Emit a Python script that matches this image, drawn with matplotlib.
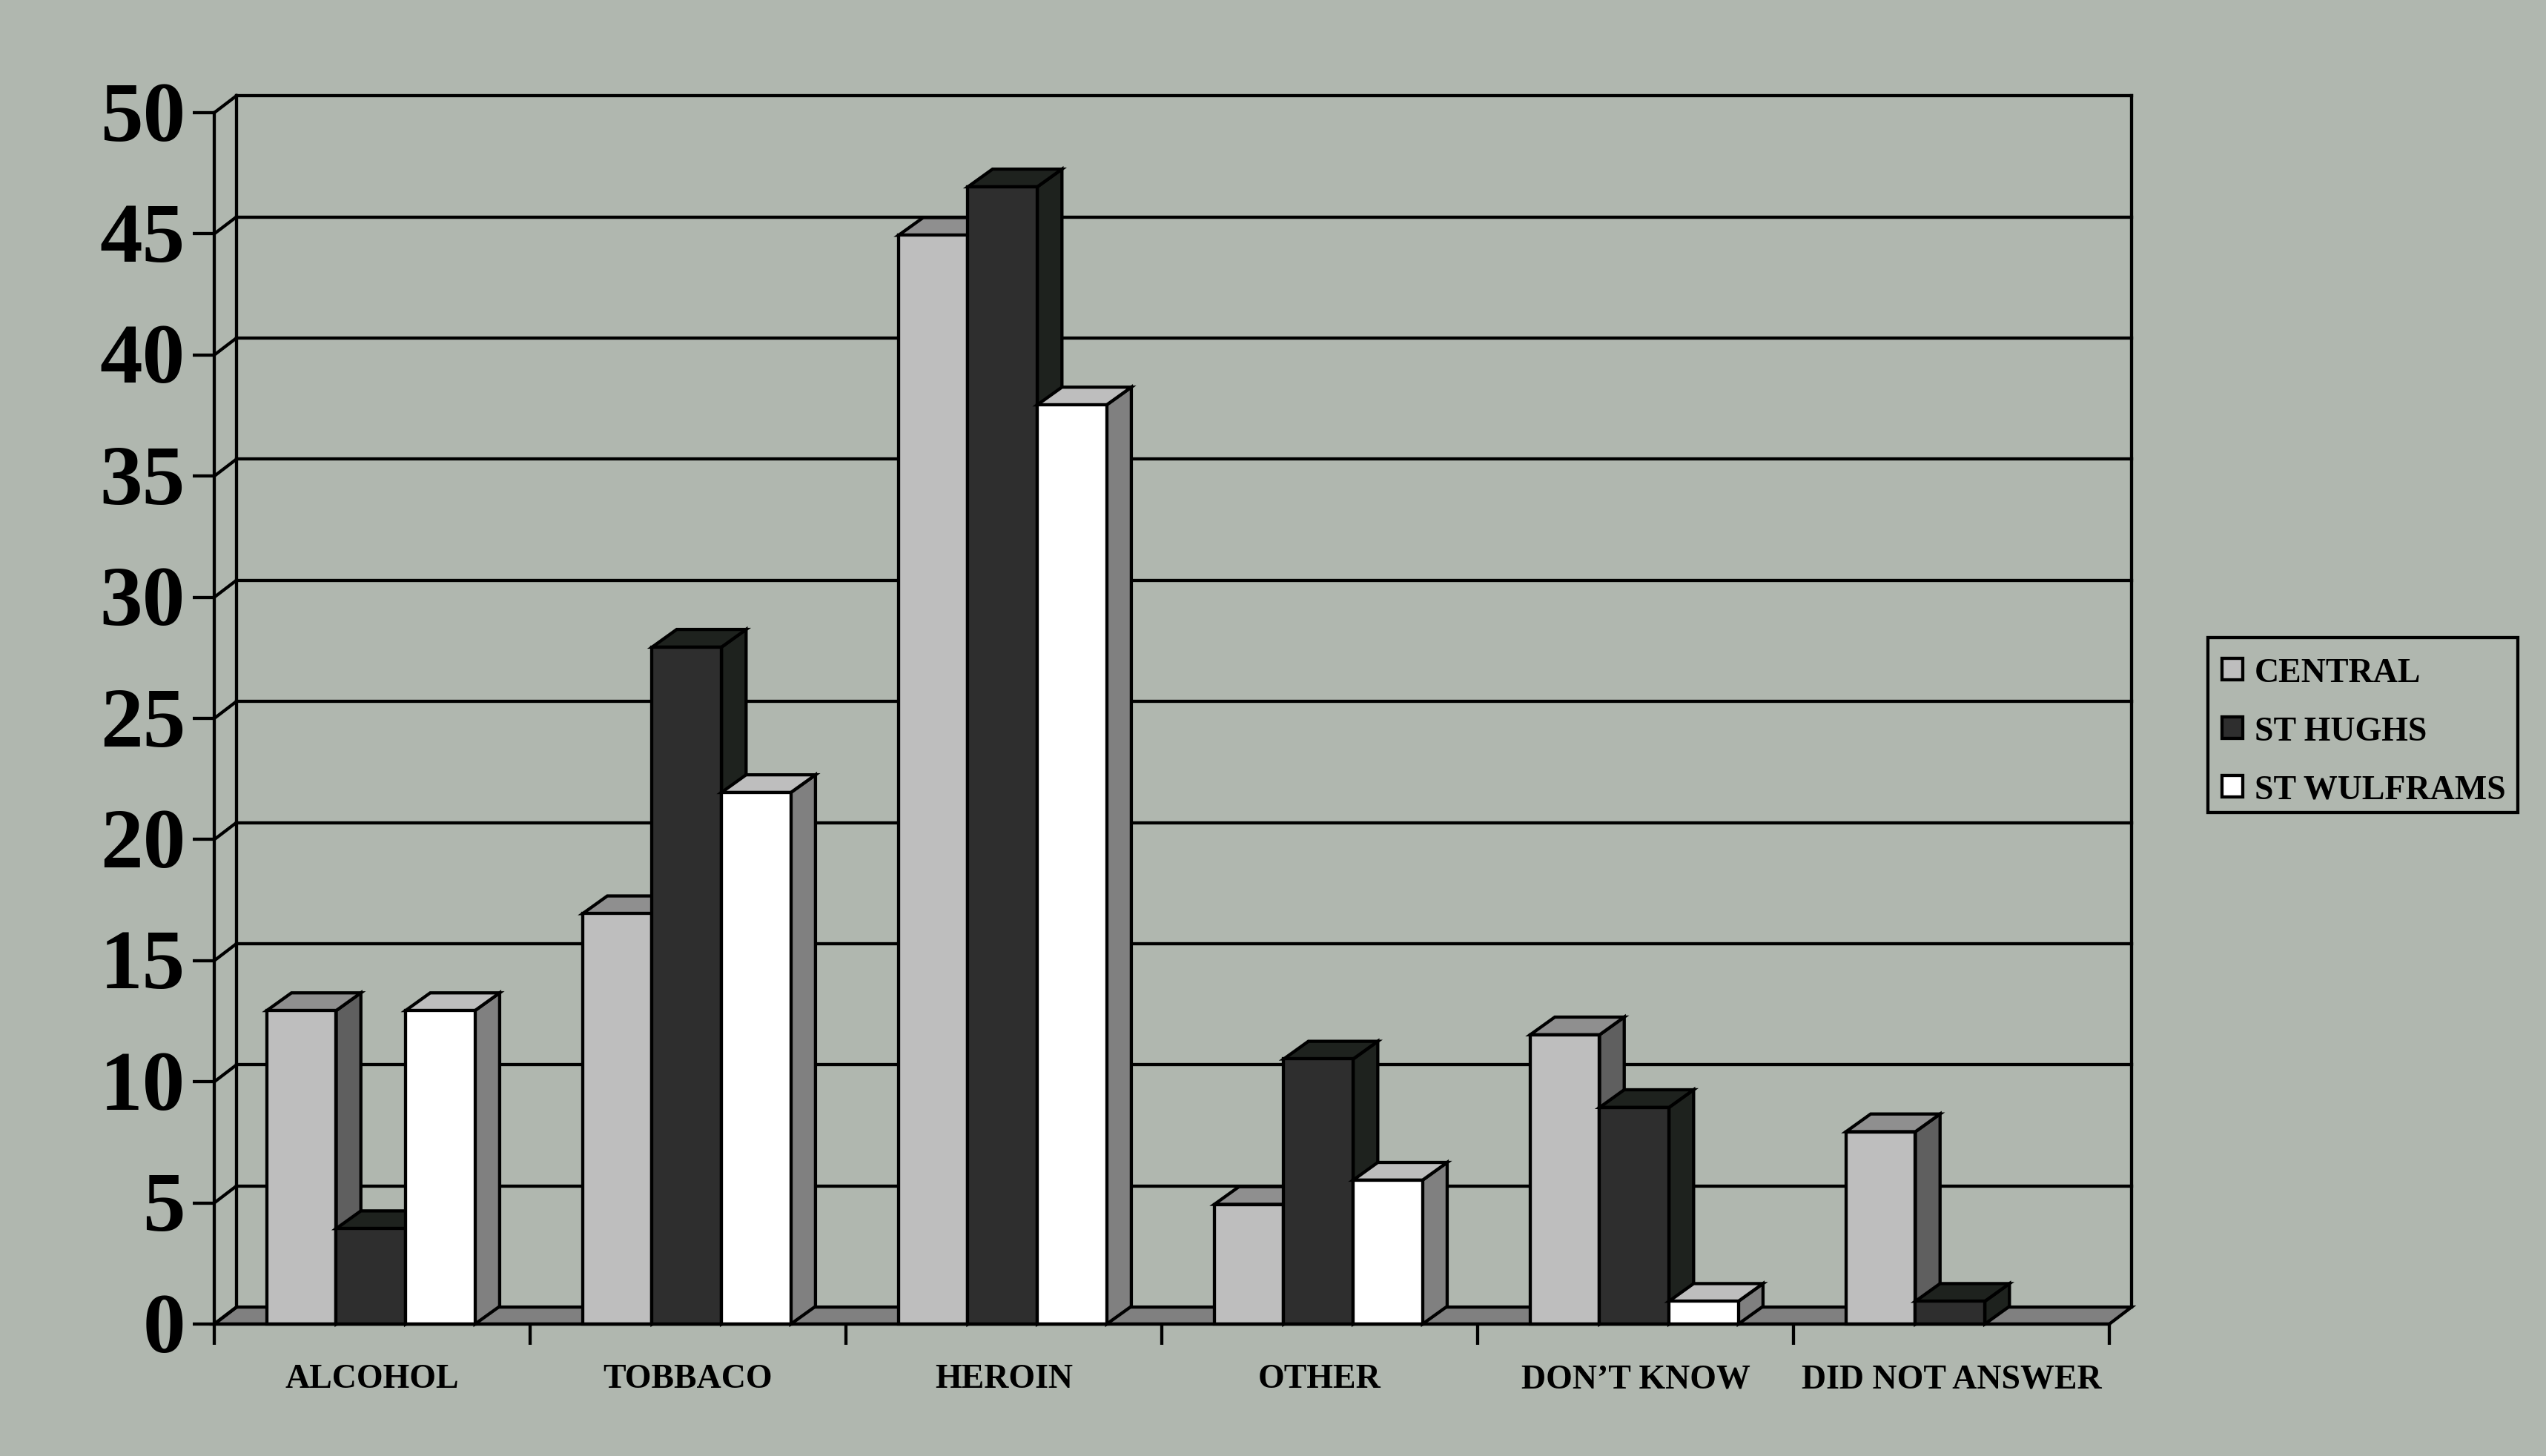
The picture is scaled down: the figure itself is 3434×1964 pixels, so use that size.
import matplotlib
matplotlib.use("Agg")
import matplotlib.pyplot as plt
from matplotlib.patches import Patch, Polygon, Rectangle
from matplotlib.transforms import ScaledTranslation

categories = ["ALCOHOL", "TOBBACO", "HEROIN", "OTHER", "DON\u2019T KNOW", "DID NOT ANSWER"]
central = [13, 17, 45, 5, 12, 8]
st_hughs = [4, 28, 47, 11, 9, 1]
st_wulframs = [13, 22, 38, 6, 1, 0]
series_names = ["CENTRAL", "ST HUGHS", "ST WULFRAMS"]
yticks = [0, 5, 10, 15, 20, 25, 30, 35, 40, 45, 50]

W, H = 3434, 1965
BG = "#b0b7af"
LW = 3.1

# front, top, side colours for each series
colours = [("#bebebe", "#8f8f8f", "#5f5f5f"),
           ("#2e2e2e", "#1e221e", "#1e221e"),
           ("#ffffff", "#bebebe", "#808080")]

plt.rcParams["font.family"] = ["Liberation Serif", "DejaVu Serif"]
plt.rcParams["font.weight"] = "bold"

fig = plt.figure(figsize=(W / 100, H / 100), dpi=100, facecolor=BG)
ax = fig.add_axes([289 / W, 1 - 1787 / H, (2845 - 289) / W, (1787 - 153) / H])
ax.set_facecolor("none")
ax.set_xlim(0, 6)
ax.set_ylim(0, 50)

# depth of the fake 3d box, in data units
wall_dx, wall_dy = 0.0704, 0.70
bar_dx, bar_dy = 0.078, 0.73
bar_w = 0.2197
bar_shift = -0.004
bar_sink = 0.06


def line(xs, ys):
    ax.plot(xs, ys, color="black", lw=LW, clip_on=False, zorder=2,
            solid_capstyle="projecting", solid_joinstyle="miter")


def poly(pts, colour, z=3):
    ax.add_patch(Polygon(pts, closed=True, facecolor=colour, edgecolor="black",
                         lw=LW, clip_on=False, zorder=z, joinstyle="miter"))


# floor
poly([(0, 0), (wall_dx, wall_dy), (6 + wall_dx, wall_dy), (6, 0)], "#808080", 1)

# walls and gridlines
for t in yticks:
    line([0, wall_dx], [t, t + wall_dy])
    if t > 0:
        line([wall_dx, 6 + wall_dx], [t + wall_dy, t + wall_dy])
line([wall_dx, wall_dx], [wall_dy, 50 + wall_dy])
line([6 + wall_dx, 6 + wall_dx], [wall_dy, 50 + wall_dy])

# bars, left to right so that each one covers the side of the one before
for i in range(len(categories)):
    for j, vals in enumerate([central, st_hughs, st_wulframs]):
        v = vals[i] - bar_sink
        if vals[i] == 0:
            continue
        x0 = i + 0.5 + bar_shift + (j - 1.5) * bar_w
        x1 = x0 + bar_w
        front, top, side = colours[j]
        poly([(x1, 0), (x1 + bar_dx, bar_dy), (x1 + bar_dx, v + bar_dy), (x1, v)], side)
        poly([(x0, v), (x0 + bar_dx, v + bar_dy), (x1 + bar_dx, v + bar_dy), (x1, v)], top)
        poly([(x0, 0), (x0, v), (x1, v), (x1, 0)], front)

for s in ["top", "right"]:
    ax.spines[s].set_visible(False)
for s in ["left", "bottom"]:
    ax.spines[s].set_linewidth(LW)
    ax.spines[s].set_zorder(5)

ax.set_yticks(yticks)
ax.set_yticklabels([str(t) for t in yticks])
ax.tick_params(axis="y", length=21, width=LW, labelsize=83, pad=7)
# the numbers sit a little above their ticks
up = ScaledTranslation(0, 2.5 / 72, fig.dpi_scale_trans)
for lab in ax.get_yticklabels():
    lab.set_transform(lab.get_transform() + up)

ax.set_xticks(range(7))
ax.set_xticklabels([])
ax.tick_params(axis="x", which="major", length=20, width=LW)
ax.set_xticks([i + 0.5 for i in range(6)], minor=True)
ax.set_xticklabels(categories, minor=True, fontsize=33)
ax.tick_params(axis="x", which="minor", length=0, pad=38.5)

# legend box is drawn by hand, the rows are not centred in it
fig.add_artist(Rectangle((2978 / W, 1 - 1097 / H), (3396 - 2978) / W, (1097 - 861) / H,
                         transform=fig.transFigure, facecolor="none",
                         edgecolor="black", lw=LW, joinstyle="miter"))
handles = [Patch(facecolor=c[0], edgecolor="black", lw=LW) for c in colours]
fig.legend(handles, series_names, loc="upper left",
           bbox_to_anchor=(2997 / W, 1 - 888 / H), borderaxespad=0,
           fontsize=33, frameon=False, handlelength=0.6, handleheight=0.6,
           handletextpad=0.35, labelspacing=0.8, borderpad=0)

fig.savefig("out.png", dpi=100, facecolor=BG)
